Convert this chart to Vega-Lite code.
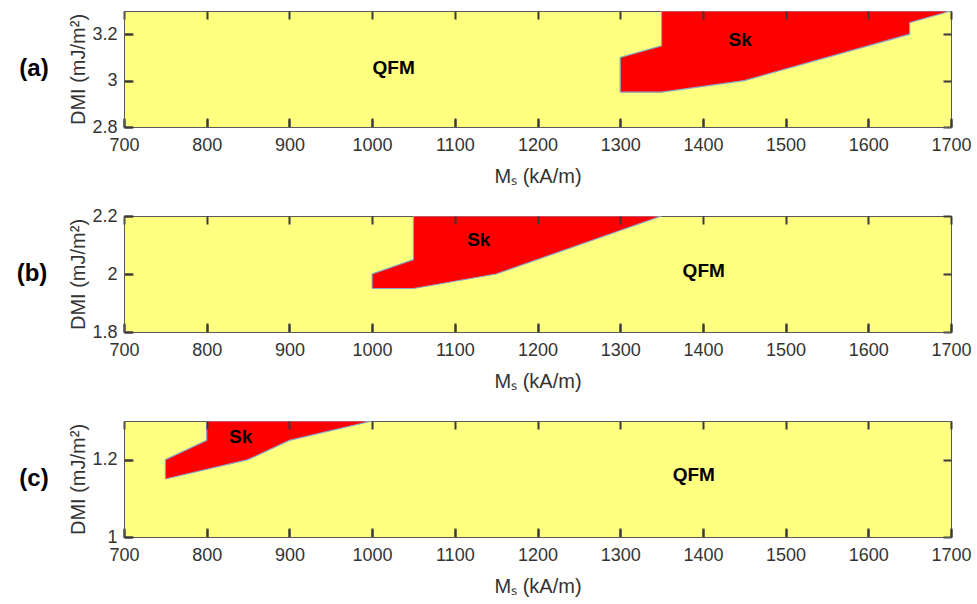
{
  "$schema": "https://vega.github.io/schema/vega-lite/v6.json",
  "padding": {"left": 16, "top": 10, "right": 5, "bottom": 5},
  "background": "white",
  "datasets": {
    "sk_a": [
      {"i": 1, "Ms": 1300, "DMI": 2.95}, {"i": 2, "Ms": 1300, "DMI": 3.1}, {"i": 3, "Ms": 1350, "DMI": 3.15},
      {"i": 4, "Ms": 1350, "DMI": 3.3}, {"i": 5, "Ms": 1700, "DMI": 3.3}, {"i": 6, "Ms": 1650, "DMI": 3.25},
      {"i": 7, "Ms": 1650, "DMI": 3.2}, {"i": 8, "Ms": 1450, "DMI": 3.0}, {"i": 9, "Ms": 1350, "DMI": 2.95},
      {"i": 10, "Ms": 1300, "DMI": 2.95}
    ],
    "sk_b": [
      {"i": 1, "Ms": 1000, "DMI": 1.95}, {"i": 2, "Ms": 1000, "DMI": 2.0}, {"i": 3, "Ms": 1050, "DMI": 2.05},
      {"i": 4, "Ms": 1050, "DMI": 2.2}, {"i": 5, "Ms": 1350, "DMI": 2.2}, {"i": 6, "Ms": 1150, "DMI": 2.0},
      {"i": 7, "Ms": 1050, "DMI": 1.95}, {"i": 8, "Ms": 1000, "DMI": 1.95}
    ],
    "sk_c": [
      {"i": 1, "Ms": 750, "DMI": 1.15}, {"i": 2, "Ms": 750, "DMI": 1.2}, {"i": 3, "Ms": 800, "DMI": 1.25},
      {"i": 4, "Ms": 800, "DMI": 1.3}, {"i": 5, "Ms": 1000, "DMI": 1.3}, {"i": 6, "Ms": 900, "DMI": 1.25},
      {"i": 7, "Ms": 850, "DMI": 1.2}, {"i": 8, "Ms": 750, "DMI": 1.15}
    ],
    "lab_a": [{"Ms": 1026, "DMI": 3.054, "label": "QFM"}, {"Ms": 1445, "DMI": 3.173, "label": "Sk"}],
    "lab_b": [{"Ms": 1129, "DMI": 2.117, "label": "Sk"}, {"Ms": 1401, "DMI": 2.011, "label": "QFM"}],
    "lab_c": [{"Ms": 841, "DMI": 1.259, "label": "Sk"}, {"Ms": 1389, "DMI": 1.16, "label": "QFM"}]
  },
  "bounds": "flush",
  "spacing": 89,
  "vconcat": [
    {
      "width": 827, "height": 116,
      "title": {"text": "(a)", "orient": "left", "angle": 0, "align": "right", "baseline": "middle", "anchor": "middle", "fontSize": 24, "fontWeight": "bold", "font": "Liberation Sans", "color": "#000", "offset": -9},
      "layer": [
        {
          "data": {"name": "sk_a"},
          "mark": {"type": "line", "fill": "#ff0000", "stroke": "#86a6c8", "strokeWidth": 1.2, "clip": true},
          "encoding": {
            "x": {"field": "Ms", "type": "quantitative", "scale": {"domain": [700, 1700], "nice": false, "zero": false},
                  "axis": {"orient": "bottom", "title": "Mₛ (kA/m)", "values": [700, 800, 900, 1000, 1100, 1200, 1300, 1400, 1500, 1600, 1700], "format": "d", "offset": 0, "ticks": true, "tickColor": "#3a3a3a", "tickWidth": 2, "tickSize": -9, "grid": true, "gridColor": "#3a3a3a", "gridWidth": 2, "gridOpacity": 1, "gridDash": [8, 100], "domain": true, "domainColor": "#5a5a5a", "zindex": 1, "labelPadding": 18, "titlePadding": 12}},
            "y": {"field": "DMI", "type": "quantitative", "scale": {"domain": [2.8, 3.3], "nice": false, "zero": false},
                  "axis": {"orient": "left", "title": "DMI (mJ/m²)", "values": [2.8, 3, 3.2], "format": "~g", "offset": 0, "ticks": true, "tickColor": "#3a3a3a", "tickWidth": 2, "tickSize": -9, "grid": true, "gridColor": "#3a3a3a", "gridWidth": 2, "gridOpacity": 1, "gridDash": [8, 811], "domain": true, "domainColor": "#5a5a5a", "zindex": 1, "labelPadding": 16, "titlePadding": 3}},
            "order": {"field": "i", "type": "quantitative"}
          }
        },
        {
          "data": {"name": "lab_a"},
          "mark": {"type": "text", "font": "Liberation Sans", "fontWeight": "bold", "fontSize": 19, "color": "#000", "align": "center", "baseline": "middle"},
          "encoding": {
            "x": {"field": "Ms", "type": "quantitative", "axis": null},
            "y": {"field": "DMI", "type": "quantitative", "axis": null},
            "text": {"field": "label"}
          }
        }
      ],
      "resolve": {"axis": {"x": "independent", "y": "independent"}}
    },
    {
      "width": 827, "height": 116,
      "title": {"text": "(b)", "orient": "left", "angle": 0, "align": "right", "baseline": "middle", "anchor": "middle", "fontSize": 24, "fontWeight": "bold", "font": "Liberation Sans", "color": "#000", "offset": -9},
      "layer": [
        {
          "data": {"name": "sk_b"},
          "mark": {"type": "line", "fill": "#ff0000", "stroke": "#86a6c8", "strokeWidth": 1.2, "clip": true},
          "encoding": {
            "x": {"field": "Ms", "type": "quantitative", "scale": {"domain": [700, 1700], "nice": false, "zero": false},
                  "axis": {"orient": "bottom", "title": "Mₛ (kA/m)", "values": [700, 800, 900, 1000, 1100, 1200, 1300, 1400, 1500, 1600, 1700], "format": "d", "offset": 0, "ticks": true, "tickColor": "#3a3a3a", "tickWidth": 2, "tickSize": -9, "grid": true, "gridColor": "#3a3a3a", "gridWidth": 2, "gridOpacity": 1, "gridDash": [8, 100], "domain": true, "domainColor": "#5a5a5a", "zindex": 1, "labelPadding": 18, "titlePadding": 12}},
            "y": {"field": "DMI", "type": "quantitative", "scale": {"domain": [1.8, 2.2], "nice": false, "zero": false},
                  "axis": {"orient": "left", "title": "DMI (mJ/m²)", "values": [1.8, 2, 2.2], "format": "~g", "offset": 0, "ticks": true, "tickColor": "#3a3a3a", "tickWidth": 2, "tickSize": -9, "grid": true, "gridColor": "#3a3a3a", "gridWidth": 2, "gridOpacity": 1, "gridDash": [8, 811], "domain": true, "domainColor": "#5a5a5a", "zindex": 1, "labelPadding": 16, "titlePadding": 3}},
            "order": {"field": "i", "type": "quantitative"}
          }
        },
        {
          "data": {"name": "lab_b"},
          "mark": {"type": "text", "font": "Liberation Sans", "fontWeight": "bold", "fontSize": 19, "color": "#000", "align": "center", "baseline": "middle"},
          "encoding": {
            "x": {"field": "Ms", "type": "quantitative", "axis": null},
            "y": {"field": "DMI", "type": "quantitative", "axis": null},
            "text": {"field": "label"}
          }
        }
      ],
      "resolve": {"axis": {"x": "independent", "y": "independent"}}
    },
    {
      "width": 827, "height": 116,
      "title": {"text": "(c)", "orient": "left", "angle": 0, "align": "right", "baseline": "middle", "anchor": "middle", "fontSize": 24, "fontWeight": "bold", "font": "Liberation Sans", "color": "#000", "offset": -9},
      "layer": [
        {
          "data": {"name": "sk_c"},
          "mark": {"type": "line", "fill": "#ff0000", "stroke": "#86a6c8", "strokeWidth": 1.2, "clip": true},
          "encoding": {
            "x": {"field": "Ms", "type": "quantitative", "scale": {"domain": [700, 1700], "nice": false, "zero": false},
                  "axis": {"orient": "bottom", "title": "Mₛ (kA/m)", "values": [700, 800, 900, 1000, 1100, 1200, 1300, 1400, 1500, 1600, 1700], "format": "d", "offset": 0, "ticks": true, "tickColor": "#3a3a3a", "tickWidth": 2, "tickSize": -9, "grid": true, "gridColor": "#3a3a3a", "gridWidth": 2, "gridOpacity": 1, "gridDash": [8, 100], "domain": true, "domainColor": "#5a5a5a", "zindex": 1, "labelPadding": 18, "titlePadding": 12}},
            "y": {"field": "DMI", "type": "quantitative", "scale": {"domain": [1, 1.3], "nice": false, "zero": false},
                  "axis": {"orient": "left", "title": "DMI (mJ/m²)", "values": [1, 1.2], "format": "~g", "offset": 0, "ticks": true, "tickColor": "#3a3a3a", "tickWidth": 2, "tickSize": -9, "grid": true, "gridColor": "#3a3a3a", "gridWidth": 2, "gridOpacity": 1, "gridDash": [8, 811], "domain": true, "domainColor": "#5a5a5a", "zindex": 1, "labelPadding": 16, "titlePadding": 3}},
            "order": {"field": "i", "type": "quantitative"}
          }
        },
        {
          "data": {"name": "lab_c"},
          "mark": {"type": "text", "font": "Liberation Sans", "fontWeight": "bold", "fontSize": 19, "color": "#000", "align": "center", "baseline": "middle"},
          "encoding": {
            "x": {"field": "Ms", "type": "quantitative", "axis": null},
            "y": {"field": "DMI", "type": "quantitative", "axis": null},
            "text": {"field": "label"}
          }
        }
      ],
      "resolve": {"axis": {"x": "independent", "y": "independent"}}
    }
  ],
  "config": {
    "view": {"fill": "#ffff80", "stroke": "#5a5a5a", "strokeWidth": 1},
    "axis": {
      "labelFlush": false,
      "labelOverlap": false,
      "labelFont": "Liberation Sans",
      "labelFontSize": 18,
      "labelColor": "#333333",
      "titleFont": "Liberation Sans",
      "titleFontSize": 20,
      "titleFontWeight": "normal",
      "titleColor": "#333333"
    }
  }
}
